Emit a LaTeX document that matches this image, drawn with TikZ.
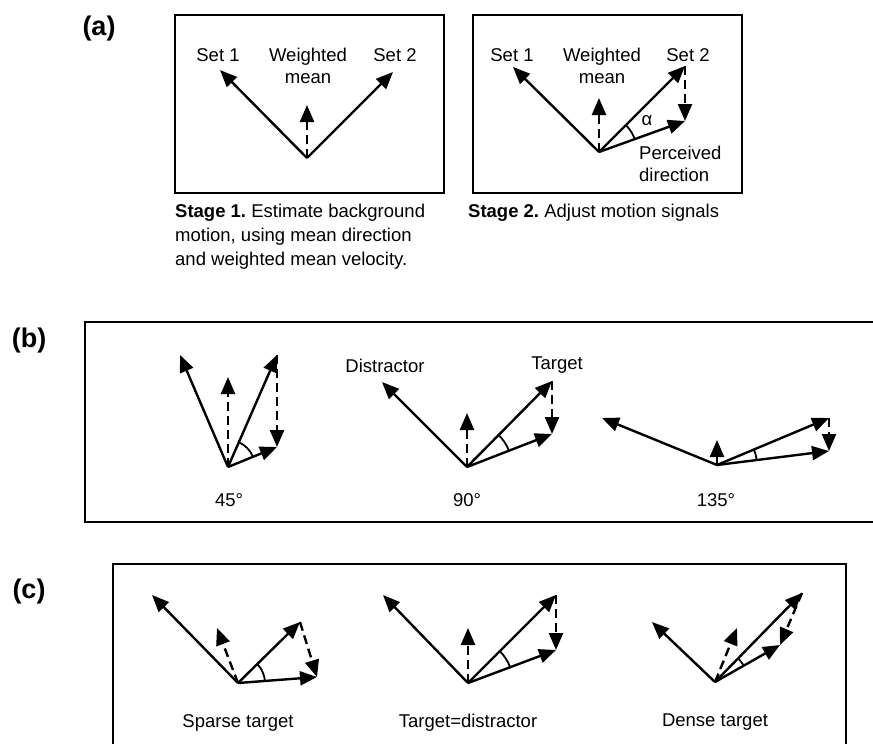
\documentclass[tikz,border=0pt]{standalone}
\usepackage{fontspec}
\setmainfont{Liberation Sans}
\usetikzlibrary{arrows.meta,calc}
\begin{document}
\frenchspacing
\begin{tikzpicture}[x=1pt,y=-1pt,
  vec/.style={line width=2.4pt,-{Triangle[length=17pt,width=14pt]}},
  mvec/.style={vec, dash pattern=on 9pt off 5pt},
  frame/.style={line width=2.3pt},
  lbl/.style={font=\fontsize{18.5}{22}\selectfont, inner sep=0pt, align=center},
  captxt/.style={font=\fontsize{18.5}{24}\selectfont, inner sep=0pt, align=left, anchor=north west},
  plabel/.style={font=\fontsize{27}{30}\selectfont\bfseries, inner sep=0pt},
  arcline/.style={line width=1.8pt}]
\useasboundingbox (0,0) rectangle (873,744);
\newcommand{\anglearc}[4]{% origin, first, second, radius
  \begin{scope}
    \clip (#1) -- ($(#1)!4!(#2)$) -- ($(#1)!4!(#3)$) -- cycle;
    \draw[arcline] (#1) circle (#4);
  \end{scope}}

% ---------- panel (a)
\node[plabel] (la) at (99,29) {(a)};
\draw[frame] (175,15) rectangle (444,193);
\draw[frame] (473,15) rectangle (742,193);

\coordinate (o1) at (307,158);
\coordinate (a1s1) at (220,70);
\coordinate (a1s2) at (393,72);
\coordinate (a1m) at (307,105);
\draw[vec] (o1) -- (a1s1);
\draw[vec] (o1) -- (a1s2);
\draw[mvec] (o1) -- (a1m);
\node[lbl] (t11) at (218,55) {Set 1};
\node[lbl] (t12) at (308,66) {Weighted\\mean};
\node[lbl] (t13) at (395,55) {Set 2};

\coordinate (o2) at (599,152);
\coordinate (a2s1) at (513,67);
\coordinate (a2s2) at (685,66);
\coordinate (a2m) at (599,98);
\coordinate (a2p) at (685,121);
\draw[vec] (o2) -- (a2s1);
\draw[vec] (o2) -- (a2s2);
\draw[mvec] (o2) -- (a2m);
\draw[vec] (o2) -- (a2p);
\draw[mvec] (a2s2) -- (a2p);
\anglearc{o2}{a2s2}{a2p}{38pt}
\node[lbl] (t21) at (512,55) {Set 1};
\node[lbl] (t22) at (602,66) {Weighted\\mean};
\node[lbl] (t23) at (688,55) {Set 2};
\node[lbl] (alpha) at (647,121) {α};
\node[lbl, align=left, anchor=west] (perc) at (639,164) {Perceived\\direction};

\node[captxt] (cap1) at (175,204) {\textbf{Stage 1.} Estimate background\\motion, using mean direction\\and weighted mean velocity.};
\node[captxt] (cap2) at (468,204) {\textbf{Stage 2.} Adjust motion signals};

% ---------- panel (b)
\node[plabel] (lb) at (29,341) {(b)};
\draw[frame] (880,322) -- (85,322) -- (85,522) -- (880,522);

\coordinate (b1o) at (228,467);
\coordinate (b1d) at (180,355);
\coordinate (b1t) at (277,355);
\coordinate (b1m) at (228,377);
\coordinate (b1p) at (277,447);
\draw[vec] (b1o) -- (b1d);
\draw[vec] (b1o) -- (b1t);
\draw[mvec] (b1o) -- (b1m);
\draw[vec] (b1o) -- (b1p);
\draw[mvec] (b1t) -- (b1p);
\anglearc{b1o}{b1t}{b1p}{27pt}
\node[lbl] (b1l) at (229,500) {45°};

\coordinate (b2o) at (467,467);
\coordinate (b2d) at (382,382);
\coordinate (b2t) at (552,381);
\coordinate (b2m) at (467,413);
\coordinate (b2p) at (552,434);
\draw[vec] (b2o) -- (b2d);
\draw[vec] (b2o) -- (b2t);
\draw[mvec] (b2o) -- (b2m);
\draw[vec] (b2o) -- (b2p);
\draw[mvec] (b2t) -- (b2p);
\anglearc{b2o}{b2t}{b2p}{45pt}
\node[lbl] (b2l) at (467,500) {90°};
\node[lbl] (dist) at (385,366) {Distractor};
\node[lbl] (targ) at (557,365) {Target};

\coordinate (b3o) at (717,465);
\coordinate (b3d) at (602,418);
\coordinate (b3t) at (829,418);
\coordinate (b3m) at (717,440);
\coordinate (b3p) at (829,451);
\draw[vec] (b3o) -- (b3d);
\draw[vec] (b3o) -- (b3t);
\draw[mvec] (b3o) -- (b3m);
\draw[vec] (b3o) -- (b3p);
\draw[mvec] (b3t) -- (b3p);
\anglearc{b3o}{b3t}{b3p}{40pt}
\node[lbl] (b3l) at (716,500) {135°};

% ---------- panel (c)
\node[plabel] (lc) at (29,592) {(c)};
\draw[frame] (113,760) -- (113,564) -- (846,564) -- (846,760);

\coordinate (c1o) at (238,683);
\coordinate (c1d) at (152,595);
\coordinate (c1m) at (217,628);
\coordinate (c1t) at (300,622);
\coordinate (c1p) at (317,677);
\draw[vec] (c1o) -- (c1d);
\draw[vec] (c1o) -- (c1t);
\draw[mvec] (c1o) -- (c1m);
\draw[vec] (c1o) -- (c1p);
\draw[mvec] (c1t) -- (c1p);
\anglearc{c1o}{c1t}{c1p}{27pt}
\node[lbl] (c1l) at (238,723) {Sparse target};

\coordinate (c2o) at (468,683);
\coordinate (c2d) at (383,595);
\coordinate (c2m) at (468,628);
\coordinate (c2t) at (556,595);
\coordinate (c2p) at (556,650);
\draw[vec] (c2o) -- (c2d);
\draw[vec] (c2o) -- (c2t);
\draw[mvec] (c2o) -- (c2m);
\draw[vec] (c2o) -- (c2p);
\draw[mvec] (c2t) -- (c2p);
\anglearc{c2o}{c2t}{c2p}{45pt}
\node[lbl] (c2l) at (468,723) {Target=distractor};

\coordinate (c3o) at (715,682);
\coordinate (c3d) at (652,622);
\coordinate (c3m) at (737,628);
\coordinate (c3t) at (802,593);
\coordinate (c3p) at (780,645);
\draw[vec] (c3o) -- (c3d);
\draw[vec] (c3o) -- (c3t);
\draw[mvec] (c3o) -- (c3m);
\draw[vec] (c3o) -- (c3p);
\draw[mvec] (c3t) -- (c3p);
\anglearc{c3o}{c3t}{c3p}{33pt}
\node[lbl] (c3l) at (715,722) {Dense target};
\end{tikzpicture}
\end{document}
